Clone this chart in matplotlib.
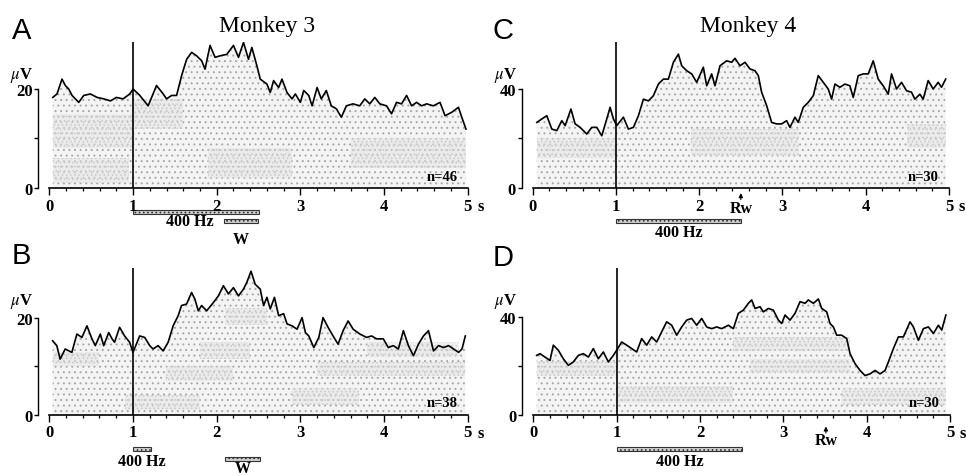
import matplotlib
matplotlib.use('Agg')
import matplotlib.pyplot as plt
import matplotlib.transforms as mtransforms
from matplotlib.patches import Rectangle

plt.rcParams['font.family'] = 'Liberation Serif'
plt.rcParams['mathtext.fontset'] = 'stix'
plt.rcParams['hatch.linewidth'] = 0.7

# ---- traces (time in s, amplitude in uV) ----
t_a = [0.04, 0.09, 0.15, 0.19, 0.23, 0.27, 0.35, 0.41, 0.49, 0.57, 0.65, 0.73, 0.80, 0.88, 0.96,
       1.00, 1.08, 1.18, 1.28, 1.36, 1.40, 1.46, 1.52, 1.58, 1.64, 1.70, 1.76, 1.82, 1.86, 1.92,
       1.98, 2.04, 2.12, 2.20, 2.26, 2.32, 2.38, 2.42, 2.48, 2.52, 2.60, 2.64, 2.68, 2.74, 2.78,
       2.84, 2.90, 2.94, 3.00, 3.04, 3.10, 3.14, 3.20, 3.25, 3.31, 3.37, 3.43, 3.49, 3.55, 3.63,
       3.71, 3.77, 3.83, 3.89, 3.95, 4.03, 4.09, 4.15, 4.21, 4.27, 4.33, 4.39, 4.45, 4.51, 4.59,
       4.67, 4.73, 4.81, 4.89, 4.93, 4.98]
uv_a = [18.3, 19.0, 22.0, 20.7, 20.0, 18.7, 17.3, 18.7, 19.0, 18.3, 18.0, 17.6, 18.3, 18.0, 19.0,
        20.0, 18.7, 16.6, 20.7, 19.0, 18.0, 18.7, 18.7, 22.7, 26.0, 27.4, 26.7, 25.7, 24.0, 28.8,
        26.4, 26.7, 27.0, 28.8, 26.4, 29.4, 26.0, 28.4, 24.7, 22.0, 21.0, 19.3, 21.7, 20.3, 22.0,
        19.3, 18.0, 19.0, 17.3, 19.7, 18.7, 16.6, 20.3, 18.0, 19.7, 16.6, 16.0, 14.3, 16.6, 17.0,
        16.6, 18.0, 17.0, 18.3, 17.0, 16.6, 15.0, 17.3, 17.0, 18.7, 16.6, 17.3, 16.6, 17.0, 16.6,
        17.3, 14.6, 15.3, 16.3, 14.3, 11.9]

t_b = [0.04, 0.09, 0.13, 0.19, 0.27, 0.33, 0.39, 0.45, 0.51, 0.55, 0.61, 0.65, 0.71, 0.75, 0.78,
       0.84, 0.90, 0.96, 1.00, 1.08, 1.14, 1.20, 1.24, 1.30, 1.36, 1.42, 1.48, 1.54, 1.58, 1.64,
       1.70, 1.74, 1.78, 1.82, 1.88, 1.96, 2.02, 2.08, 2.14, 2.20, 2.26, 2.32, 2.36, 2.41, 2.46,
       2.52, 2.56, 2.60, 2.64, 2.69, 2.74, 2.80, 2.84, 2.90, 2.96, 3.02, 3.06, 3.10, 3.16, 3.22,
       3.27, 3.33, 3.39, 3.45, 3.51, 3.57, 3.63, 3.71, 3.79, 3.85, 3.91, 3.99, 4.05, 4.11, 4.17,
       4.23, 4.29, 4.35, 4.41, 4.47, 4.53, 4.59, 4.65, 4.71, 4.77, 4.83, 4.89, 4.93, 4.97]
uv_b = [15.3, 14.3, 11.5, 13.6, 12.9, 16.7, 16.0, 18.4, 15.7, 14.3, 16.7, 14.3, 17.0, 15.7, 15.0,
        18.1, 16.3, 15.0, 12.9, 16.3, 16.0, 14.3, 13.6, 14.3, 13.2, 15.0, 18.4, 20.5, 22.6, 22.9,
        25.3, 23.9, 21.5, 22.6, 21.5, 23.2, 24.6, 26.7, 25.0, 26.3, 24.6, 26.0, 27.4, 29.7, 27.0,
        26.0, 22.6, 24.3, 21.9, 24.3, 20.5, 20.9, 18.8, 18.4, 17.7, 20.1, 17.0, 16.3, 13.9, 16.0,
        20.1, 18.1, 16.3, 14.6, 17.4, 19.4, 17.7, 16.7, 16.0, 16.3, 15.7, 15.7, 13.9, 14.3, 13.6,
        17.4, 14.3, 12.2, 14.6, 16.3, 17.4, 13.2, 14.3, 13.9, 14.3, 13.6, 12.9, 13.6, 16.3]

t_c = [0.05, 0.11, 0.17, 0.23, 0.29, 0.35, 0.39, 0.46, 0.51, 0.57, 0.65, 0.71, 0.77, 0.83, 0.89,
       0.93, 0.97, 1.01, 1.09, 1.15, 1.21, 1.27, 1.33, 1.39, 1.45, 1.51, 1.57, 1.63, 1.69, 1.75,
       1.79, 1.85, 1.91, 1.97, 2.05, 2.09, 2.15, 2.19, 2.25, 2.33, 2.39, 2.43, 2.49, 2.55, 2.61,
       2.67, 2.71, 2.75, 2.81, 2.87, 2.93, 2.99, 3.05, 3.09, 3.15, 3.19, 3.25, 3.31, 3.37, 3.43,
       3.49, 3.55, 3.59, 3.63, 3.69, 3.75, 3.81, 3.85, 3.91, 3.97, 4.03, 4.09, 4.15, 4.21, 4.27,
       4.31, 4.37, 4.43, 4.49, 4.55, 4.59, 4.65, 4.69, 4.75, 4.81, 4.87, 4.91, 4.96]
uv_c = [26.5, 27.9, 29.2, 23.8, 23.2, 27.2, 25.2, 31.9, 25.9, 24.5, 21.8, 24.5, 24.5, 21.1, 27.9,
        32.6, 27.9, 25.2, 28.6, 23.8, 24.5, 29.2, 35.9, 35.2, 37.3, 42.0, 44.0, 44.0, 50.8, 54.1,
        49.4, 47.4, 46.1, 42.7, 48.8, 41.3, 46.1, 41.3, 49.4, 51.4, 50.8, 52.4, 49.4, 50.8, 48.1,
        47.4, 45.4, 38.7, 33.3, 26.5, 25.9, 25.9, 27.2, 24.5, 28.6, 26.5, 32.6, 34.6, 37.3, 45.4,
        42.7, 40.0, 35.9, 42.0, 40.7, 42.0, 41.3, 36.6, 45.4, 46.1, 46.1, 51.4, 44.0, 41.3, 37.9,
        46.1, 40.0, 42.7, 39.3, 38.7, 35.9, 37.9, 35.9, 43.4, 40.0, 42.7, 40.7, 44.0]

t_d = [0.04, 0.08, 0.14, 0.20, 0.24, 0.30, 0.36, 0.42, 0.48, 0.54, 0.60, 0.66, 0.72, 0.78, 0.84,
       0.90, 0.96, 1.00, 1.06, 1.12, 1.18, 1.24, 1.30, 1.36, 1.42, 1.48, 1.54, 1.60, 1.66, 1.72,
       1.78, 1.84, 1.90, 1.96, 2.02, 2.08, 2.14, 2.20, 2.26, 2.34, 2.40, 2.46, 2.52, 2.58, 2.62,
       2.66, 2.72, 2.76, 2.82, 2.88, 2.94, 2.98, 3.02, 3.08, 3.14, 3.20, 3.26, 3.30, 3.36, 3.42,
       3.46, 3.52, 3.56, 3.60, 3.64, 3.70, 3.76, 3.80, 3.86, 3.92, 3.98, 4.04, 4.10, 4.16, 4.22,
       4.26, 4.32, 4.38, 4.44, 4.52, 4.56, 4.62, 4.68, 4.74, 4.80, 4.86, 4.90, 4.95]
uv_d = [24.4, 25.1, 23.7, 22.3, 28.6, 26.5, 23.0, 20.3, 21.7, 24.4, 25.1, 23.7, 27.2, 23.0, 25.8,
        21.7, 24.4, 26.5, 29.9, 28.6, 27.2, 25.8, 31.3, 28.6, 32.0, 29.9, 34.1, 38.2, 36.8, 32.7,
        36.1, 38.9, 39.6, 36.8, 39.6, 36.1, 35.4, 36.1, 35.4, 36.8, 35.4, 41.7, 43.0, 45.8, 47.2,
        43.7, 44.4, 42.3, 43.7, 43.0, 38.9, 37.5, 41.0, 38.9, 41.7, 46.5, 45.8, 47.2, 45.8, 47.6,
        43.7, 42.3, 37.5, 36.1, 32.7, 32.7, 31.3, 25.1, 21.0, 18.2, 16.1, 16.8, 18.2, 16.8, 18.2,
        21.7, 27.2, 32.0, 32.0, 38.2, 36.1, 30.6, 35.4, 36.1, 33.4, 36.8, 34.8, 41.0]

# denser stipple clouds: (t start, t end, uV low, uV high)
clouds_a = [(0.04, 0.95, 1, 6), (0.04, 1.0, 8, 15), (1.0, 1.6, 12, 18), (1.9, 2.9, 2, 8),
            (3.6, 4.98, 4, 10)]
clouds_b = [(0.04, 0.6, 10, 13), (1.8, 2.4, 11.5, 15), (2.1, 2.6, 18.5, 22), (1.4, 2.2, 7, 10),
            (0.9, 1.8, 1, 4), (3.2, 4.97, 8, 11), (2.9, 3.7, 2, 5.5), (3.8, 4.9, 12, 15)]
clouds_c = [(0.05, 1.0, 12, 20), (1.9, 3.2, 13, 24), (4.5, 4.96, 16, 26)]
clouds_d = [(0.04, 1.0, 16, 22), (1.0, 2.4, 5, 12), (2.4, 3.8, 26, 32), (2.6, 3.8, 17, 23),
            (3.7, 4.95, 4, 11)]

# event timings (s)
tone_a, wait_a = (1.0, 2.5), (2.09, 2.49)
tone_b, wait_b = (1.0, 1.22), (2.10, 2.52)
tone_c, reward_c = (1.0, 2.5), 2.50
tone_d, reward_d = (1.0, 2.5), 3.51

n_trials = {'A': 'n=46', 'B': 'n=38', 'C': 'n=30', 'D': 'n=30'}

fig = plt.figure(figsize=(9.66, 4.77), dpi=100)


def panel(rect, t, uv, clouds, ytop, yfull, tag):
    ax = fig.add_axes(rect)
    ax.fill_between(t, 0, uv, facecolor='#f4f4f4', edgecolor='#a8a8a8',
                    hatch='...', linewidth=0)
    for t0, t1, lo, hi in clouds:
        ax.fill_between([t0, t1], lo, hi, facecolor='#e4e4e4', edgecolor='#b8b8b8',
                        hatch='....', linewidth=0, alpha=0.55)
    ax.plot(t, uv, color='black', lw=1.2)
    ax.axvline(1.0, color='black', lw=1.2)
    ax.set_xlim(0, 5)
    ax.set_ylim(0, ytop)
    for s in ['top', 'right']:
        ax.spines[s].set_visible(False)
    ax.spines['left'].set_position(('outward', 8))
    ax.spines['left'].set_bounds(0, yfull)
    ax.spines['bottom'].set_bounds(0, 5)
    ax.spines['left'].set_linewidth(1.0)
    ax.spines['bottom'].set_linewidth(1.2)
    ax.set_yticks([0, yfull / 2, yfull])
    ax.set_yticklabels(['0', '', str(yfull)], fontweight='bold', fontsize=12)
    ax.set_xticks(range(6))
    ax.set_xticklabels([str(i) for i in range(6)], fontweight='bold', fontsize=12)
    ax.set_xticks([i * 0.2 for i in range(26)], minor=True)
    ax.tick_params(axis='x', which='major', length=5, width=1.0, pad=2)
    ax.tick_params(axis='x', which='minor', length=2.5, width=0.9)
    ax.tick_params(axis='y', length=3, width=1.0, pad=1)
    ax.annotate('s', xy=(5, 0), xytext=(7, -13), textcoords='offset points',
                fontsize=12, fontweight='bold', va='center', ha='left', annotation_clip=False)
    ax.text(-0.038, 0.78, r'$\mu$V', transform=ax.transAxes, ha='right', va='center',
            fontsize=12, fontweight='bold')
    ax.text(0.975, 0.08, n_trials[tag], transform=ax.transAxes, ha='right', va='center',
            fontsize=10.5, fontweight='bold')
    return ax


def bar(ax, span, y, h=0.03):
    tr = mtransforms.blended_transform_factory(ax.transData, ax.transAxes)
    ax.add_patch(Rectangle((span[0], y - h / 2), span[1] - span[0], h, transform=tr,
                           facecolor='#d0d0d0', edgecolor='#333333', lw=0.8,
                           hatch='....', clip_on=False))


def label(ax, x, y, s, size=11.5):
    tr = mtransforms.blended_transform_factory(ax.transData, ax.transAxes)
    ax.text(x, y, s, transform=tr, ha='center', va='center', fontsize=size,
            fontweight='bold', clip_on=False)


def reward(ax, x, y_text, y_tip):
    tr = mtransforms.blended_transform_factory(ax.transData, ax.transAxes)
    ax.annotate('', xy=(x, y_tip), xytext=(x, y_tip - 0.045), xycoords=tr, textcoords=tr,
                arrowprops=dict(arrowstyle='-|>', color='black', lw=0.8,
                                mutation_scale=6, shrinkA=0, shrinkB=0))
    ax.text(x, y_text, 'Rw', transform=tr, ha='center', va='center', fontsize=11.5,
            fontweight='bold', clip_on=False)


ax_a = panel([0.0512, 0.6038, 0.4329, 0.3061], t_a, uv_a, clouds_a, 29.5, 20, 'A')
ax_b = panel([0.0510, 0.1285, 0.4333, 0.3069], t_b, uv_b, clouds_b, 30.3, 20, 'B')
ax_c = panel([0.5514, 0.6038, 0.4310, 0.3061], t_c, uv_c, clouds_c, 59.0, 40, 'C')
ax_d = panel([0.5521, 0.1285, 0.4314, 0.3069], t_d, uv_d, clouds_d, 60.2, 40, 'D')

bar(ax_a, tone_a, -0.164)
bar(ax_a, wait_a, -0.226)
label(ax_a, 1.68, -0.226, '400 Hz')
label(ax_a, 2.29, -0.35, 'W')

bar(ax_b, tone_b, -0.234)
bar(ax_b, wait_b, -0.303)
label(ax_b, 1.11, -0.314, '400 Hz')
label(ax_b, 2.31, -0.365, 'W')

bar(ax_c, tone_c, -0.224)
label(ax_c, 1.75, -0.30, '400 Hz')
reward(ax_c, reward_c, -0.14, -0.035)

bar(ax_d, tone_d, -0.234)
label(ax_d, 1.76, -0.314, '400 Hz')
reward(ax_d, reward_d, -0.17, -0.08)

for x, y, s in [(0.012, 0.935, 'A'), (0.510, 0.935, 'C'), (0.012, 0.463, 'B'), (0.510, 0.459, 'D')]:
    fig.text(x, y, s, fontsize=21, family='Liberation Sans', va='center', ha='left')

fig.text(0.276, 0.9335, 'Monkey 3', fontsize=17, ha='center', va='baseline')
fig.text(0.774, 0.9335, 'Monkey 4', fontsize=17, ha='center', va='baseline')

fig.savefig('out.png', dpi=100)
